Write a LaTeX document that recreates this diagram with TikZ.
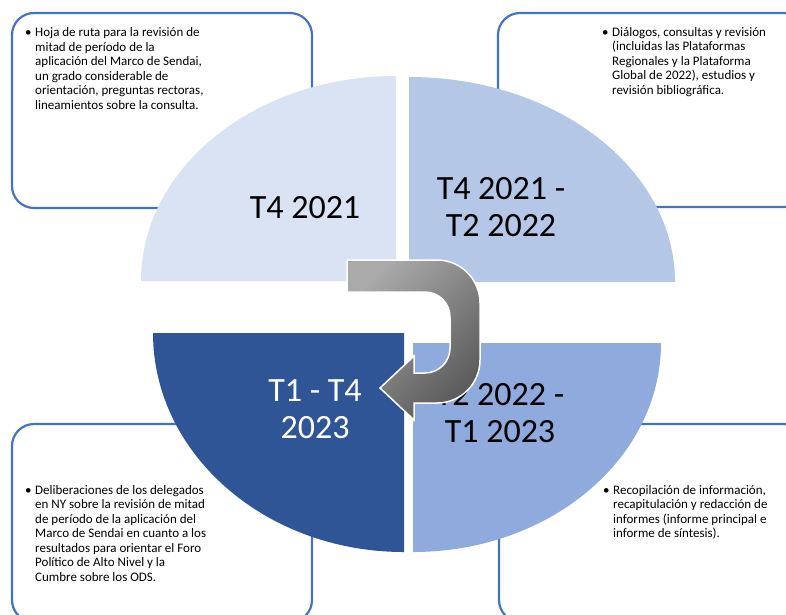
\documentclass[tikz,border=0pt]{standalone}
\usepackage{fontspec}
\setmainfont{Carlito}
\definecolor{boxblue}{HTML}{4472C4}
\definecolor{qa}{HTML}{DAE3F3}
\definecolor{qb}{HTML}{B4C7E7}
\definecolor{qc}{HTML}{2F5597}
\definecolor{qd}{HTML}{8FAADC}
\definecolor{arrtop}{HTML}{AAAAAA}
\definecolor{arrbot}{HTML}{5A5A5A}
\begin{document}
\begin{tikzpicture}[x=1pt,y=-1pt,
  infobox/.style={draw=boxblue, line width=2.2pt, rounded corners=22pt, fill=white},
  infotext/.style={anchor=base west, inner sep=0pt, font=\fontsize{13}{14.5}\selectfont},
  biglabel/.style={inner sep=0pt, align=center, font=\fontsize{34}{37}\selectfont},
  cyclearrow/.style={draw=white, line width=1.5pt, top color=arrtop, bottom color=arrbot, shading angle=45}]
\useasboundingbox (0,0) rectangle (786,614);
\begin{scope}
\clip (0,0) rectangle (786,614);
% text boxes
\draw[infobox] (12,13) rectangle (312,208);
\draw[infobox] (498,13) rectangle (806,207);
\draw[infobox] (12,424) rectangle (312,622);
\draw[infobox] (499,424) rectangle (806,622);
% box texts
\node[infotext] (t1) at (25,36.5) {\begin{tabular}[t]{@{}p{10pt}@{}l@{}}•&Hoja de ruta para la revisión de\\&mitad de período de la\\&aplicación del Marco de Sendai,\\&un grado considerable de\\&orientación, preguntas rectoras,\\&lineamientos sobre la consulta.\end{tabular}};
\node[infotext] (t2) at (602,36) {\begin{tabular}[t]{@{}p{10pt}@{}l@{}}•&Diálogos, consultas y revisión\\&(incluidas las Plataformas\\&Regionales y la Plataforma\\&Global de 2022), estudios y\\&revisión bibliográfica.\end{tabular}};
\node[infotext] (t3) at (25,494) {\begin{tabular}[t]{@{}p{10pt}@{}l@{}}•&Deliberaciones de los delegados\\&en NY sobre la revisión de mitad\\&de período de la aplicación del\\&Marco de Sendai en cuanto a los\\&resultados para orientar el Foro\\&Político de Alto Nivel y la\\&Cumbre sobre los ODS.\end{tabular}};
\node[infotext] (t4) at (603,494) {\begin{tabular}[t]{@{}p{10pt}@{}l@{}}•&Recopilación de información,\\&recapitulación y redacción de\\&informes (informe principal e\\&informe de síntesis).\end{tabular}};
% quadrants
\fill[qa] (396,281) -- (141,281) arc[start angle=180, end angle=270, x radius=255, y radius=205] -- cycle;
\fill[qb] (409,282) -- (409,77) arc[start angle=270, end angle=360, x radius=266, y radius=205] -- cycle;
\fill[qc] (404,333) -- (153,333) arc[start angle=180, end angle=90, x radius=251, y radius=219] -- cycle;
\fill[qd] (413,343) -- (661,343) arc[start angle=0, end angle=90, x radius=248, y radius=209] -- cycle;
% labels
\node[biglabel] (l1) at (305,208) {T4 2021};
\node[biglabel] (l2) at (501,207.5) {T4 2021 -\\T2 2022};
\node[biglabel, text=white] (l3) at (315,409.5) {T1 - T4\\2023};
\node[biglabel] (l4) at (500,413.5) {T2 2022 -\\T1 2023};
% arrow
\shadedraw[cyclearrow] (347,260) -- (437,260) arc[start angle=270, end angle=360, radius=43]
  -- (480,360) arc[start angle=0, end angle=90, radius=43]
  -- (414,403) -- (414,420) -- (380,388) -- (414,356) -- (414,373) -- (425,373)
  arc[start angle=90, end angle=0, radius=25] -- (450,317)
  arc[start angle=0, end angle=-90, radius=25] -- (347,292) -- cycle;
\end{scope}
\end{tikzpicture}
\end{document}
